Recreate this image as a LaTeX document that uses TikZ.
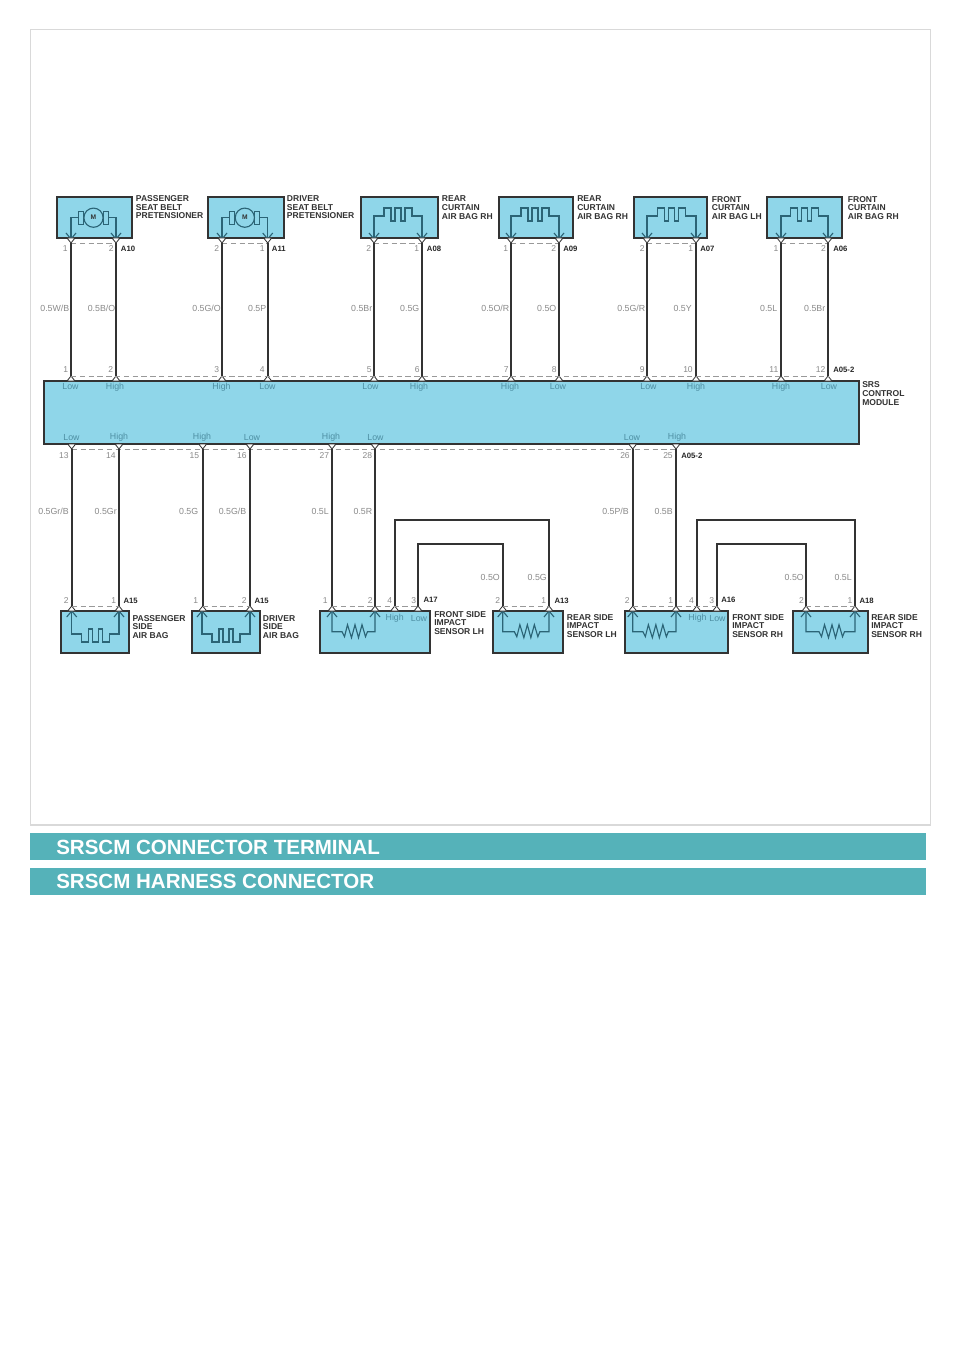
\documentclass[tikz,border=0pt]{standalone}
\usepackage{fontspec}
\setmainfont{Liberation Sans}
\newcounter{lb}
\definecolor{modfill}{HTML}{8FD6E9}
\definecolor{dark}{HTML}{333333}
\definecolor{symb}{HTML}{2B6476}
\definecolor{wlab}{HTML}{8A8A8A}
\definecolor{pinlab}{HTML}{4E8FA3}
\definecolor{band}{HTML}{55B2B9}
\definecolor{frameg}{HTML}{D9D9D9}
\tikzset{
  x=0.75pt,y=-0.75pt,
  box/.style={draw=dark,fill=modfill,line width=1.5pt,inner sep=0pt,outer sep=0pt},
  wire/.style={draw=dark,line width=1.4pt},
  dashl/.style={draw=gray!80,line width=0.7pt,dash pattern=on 4pt off 2.6pt},
  symbl/.style={draw=symb,line width=0.85pt,line join=miter},
  term/.style={draw=dark,fill=white,line width=0.6pt},
  wl/.style={text=wlab,inner sep=0pt,anchor=east,font=\fontsize{6.6}{7}\selectfont},
  num/.style={text=wlab,inner sep=0pt,anchor=east,font=\fontsize{6.4}{7}\selectfont},
  io/.style={text=pinlab,inner sep=0pt,anchor=center,font=\fontsize{6.6}{7}\selectfont},
  cid/.style={text=black!85,inner sep=0pt,anchor=west,font=\bfseries\fontsize{5.8}{7}\selectfont},
  cname/.style={text=black!80,inner sep=0pt,anchor=west,align=left,font=\bfseries\fontsize{6.4}{6.5}\selectfont},
  bandl/.style={fill=band,draw=none,inner sep=0pt,outer sep=0pt},
  bandt/.style={text=white,inner sep=0pt,anchor=west,font=\bfseries\fontsize{15.4}{18}\selectfont}
}
% text label with an automatic name
\newcommand{\lab}[4]{\stepcounter{lb}\node[#1] (t\thelb) at (#2,#3) {#4};}
% component box: name x1 y1 x2 y2
\newcommand{\comp}[5]{\node[box,minimum width={(#4-#2)*0.75pt},minimum height={(#5-#3)*0.75pt}] (#1) at ({(#2+#4)/2},{(#3+#5)/2}) {};}
% terminal triangle with named apex: name x ybase dir
\newcommand{\term}[4]{\draw[term] (#2-4,#3) -- (#2+4,#3) -- (#2,#3+5*#4) -- cycle; \coordinate (#1) at (#2,#3+5*#4);}
% chevron tip at x,y; arms go back along the wire (d=1: arms upward, d=-1: arms downward)
\newcommand{\chev}[3]{\draw[symbl] (#1-5,#2-6*#3) -- (#1,#2) -- (#1+5,#2-6*#3);}
% heater: x1 x2 ywire ytip dir
\newcommand{\heater}[5]{%
  \pgfmathsetmacro{\cx}{(#1+#2)/2}%
  \draw[symbl] (#1,#4) -- (#1,#3) -- (\cx-14,#3) -- (\cx-14,#3-8*#5) -- (\cx-7,#3-8*#5) -- (\cx-7,#3+5*#5) -- (\cx-3,#3+5*#5) -- (\cx-3,#3-8*#5) -- (\cx+3,#3-8*#5) -- (\cx+3,#3+5*#5) -- (\cx+7,#3+5*#5) -- (\cx+7,#3-8*#5) -- (\cx+14,#3-8*#5) -- (\cx+14,#3) -- (#2,#3) -- (#2,#4);
  \chev{#1}{#4}{#5}\chev{#2}{#4}{#5}}
% resistor: x1 x2 ywire ytip dir
\newcommand{\resist}[5]{%
  \pgfmathsetmacro{\cx}{(#1+#2)/2}%
  \draw[symbl] (#1,#4) -- (#1,#3) -- (\cx-11.5,#3) -- (\cx-9,#3+5) -- (\cx-6,#3-7) -- (\cx-2,#3+6) -- (\cx+1.5,#3-7) -- (\cx+5,#3+6) -- (\cx+8.5,#3-7) -- (\cx+12,#3+5) -- (\cx+14,#3) -- (#2,#3) -- (#2,#4);
  \chev{#1}{#4}{#5}\chev{#2}{#4}{#5}}
% motor: x1 x2 ywire ytip
\newcommand{\motor}[4]{%
  \pgfmathsetmacro{\cx}{(#1+#2)/2}%
  \draw[symbl] (#1,#4) -- (#1,#3) -- (\cx-15,#3) (\cx+15,#3) -- (#2,#3) -- (#2,#4);
  \draw[symbl] (\cx-15,#3-6.5) rectangle (\cx-10,#3+6.5);
  \draw[symbl] (\cx+10,#3-6.5) rectangle (\cx+15,#3+6.5);
  \draw[symbl,fill=modfill] (\cx,#3) circle[radius=7.2pt];
  \stepcounter{lb}\node[inner sep=0pt,text=dark,font=\bfseries\fontsize{5}{6}\selectfont] (t\thelb) at (\cx,#3) {M};
  \chev{#1}{#4}{1}\chev{#2}{#4}{1}}
\begin{document}
\begin{tikzpicture}
\useasboundingbox[fill=white] (0,0) rectangle (960,1358);
\node[draw=frameg,line width=0.9pt,fill=white,minimum width={900*0.75pt},minimum height={795.5*0.75pt},inner sep=0pt] (frame) at (480.5,427.3) {};

% ---- module
\comp{srs}{44}{381}{858.5}{444}
\lab{cname}{862}{393.5}{SRS\\CONTROL\\MODULE}

% ---- upper components
\comp{a10}{56.5}{197}{131.5}{238}
\comp{a11}{208}{197}{284}{238}
\comp{a08}{361}{197}{438}{238}
\comp{a09}{499}{197}{573}{238}
\comp{a07}{634}{197}{707}{238}
\comp{a06}{767}{197}{842}{238}

\motor{71}{116}{217.7}{239}
\motor{222}{267.7}{217.7}{239}
\heater{374}{422}{216}{239}{1}
\heater{511}{559}{216}{239}{1}
\heater{647}{696}{216}{239}{1}
\heater{781}{828}{216}{239}{1}

% ---- lower components
\comp{b15a}{61}{611}{129}{653}
\comp{b15b}{192}{611}{260}{653}
\comp{b17}{319.5}{611}{430}{653}
\comp{b13}{493}{611}{563}{653}
\comp{b16}{624.5}{611}{728}{653}
\comp{b18}{793}{611}{868}{653}

\heater{71.7}{119}{634}{611}{-1}
\heater{202}{250}{634}{611}{-1}
\resist{332}{375}{631.7}{611}{-1}
\resist{502.7}{549}{631.7}{611}{-1}
\resist{632.7}{676}{631.7}{611}{-1}
\resist{806}{855}{631.7}{611}{-1}

% ---- terminals, upper components
\term{ua1}{71}{238}{1}\term{ua2}{116}{238}{1}
\term{ub1}{222}{238}{1}\term{ub2}{267.7}{238}{1}
\term{uc1}{374}{238}{1}\term{uc2}{422}{238}{1}
\term{ud1}{511}{238}{1}\term{ud2}{559}{238}{1}
\term{ue1}{647}{238}{1}\term{ue2}{696}{238}{1}
\term{uf1}{781}{238}{1}\term{uf2}{828}{238}{1}
% ---- terminals, module top
\term{m1}{71}{381}{-1}\term{m2}{116}{381}{-1}
\term{m3}{222}{381}{-1}\term{m4}{267.7}{381}{-1}
\term{m5}{374}{381}{-1}\term{m6}{422}{381}{-1}
\term{m7}{511}{381}{-1}\term{m8}{559}{381}{-1}
\term{m9}{647}{381}{-1}\term{m10}{696}{381}{-1}
\term{m11}{781}{381}{-1}\term{m12}{828}{381}{-1}
% ---- terminals, module bottom
\term{n13}{71.7}{444}{1}\term{n14}{119}{444}{1}
\term{n15}{202.7}{444}{1}\term{n16}{250}{444}{1}
\term{n27}{332}{444}{1}\term{n28}{375}{444}{1}
\term{n26}{632.7}{444}{1}\term{n25}{676}{444}{1}
% ---- terminals, lower components
\term{la1}{71.7}{611}{-1}\term{la2}{119}{611}{-1}
\term{lb1}{202.7}{611}{-1}\term{lb2}{250}{611}{-1}
\term{lc1}{332}{611}{-1}\term{lc2}{375}{611}{-1}\term{lc4}{394.7}{611}{-1}\term{lc3}{418}{611}{-1}
\term{ld2}{502.7}{611}{-1}\term{ld1}{549}{611}{-1}
\term{le1}{632.7}{611}{-1}\term{le2}{676}{611}{-1}\term{le4}{696.7}{611}{-1}\term{le3}{716.7}{611}{-1}
\term{lf2}{806}{611}{-1}\term{lf1}{855}{611}{-1}

% ---- dashed connector outlines
\draw[dashl] (ua1) -- (ua2);
\draw[dashl] (ub1) -- (ub2);
\draw[dashl] (uc1) -- (uc2);
\draw[dashl] (ud1) -- (ud2);
\draw[dashl] (ue1) -- (ue2);
\draw[dashl] (uf1) -- (uf2);
\draw[dashl] (m1) -- (m12);
\draw[dashl] (n13) -- (n25);
\draw[dashl] (la1) -- (la2);
\draw[dashl] (lb1) -- (lb2);
\draw[dashl] (lc1) -- (lc3);
\draw[dashl] (ld2) -- (ld1);
\draw[dashl] (le1) -- (le3);
\draw[dashl] (lf2) -- (lf1);

% ---- wires
\draw[wire] (ua1) -- (m1);
\draw[wire] (ua2) -- (m2);
\draw[wire] (ub1) -- (m3);
\draw[wire] (ub2) -- (m4);
\draw[wire] (uc1) -- (m5);
\draw[wire] (uc2) -- (m6);
\draw[wire] (ud1) -- (m7);
\draw[wire] (ud2) -- (m8);
\draw[wire] (ue1) -- (m9);
\draw[wire] (ue2) -- (m10);
\draw[wire] (uf1) -- (m11);
\draw[wire] (uf2) -- (m12);
\draw[wire] (n13) -- (la1);
\draw[wire] (n14) -- (la2);
\draw[wire] (n15) -- (lb1);
\draw[wire] (n16) -- (lb2);
\draw[wire] (n27) -- (lc1);
\draw[wire] (n28) -- (lc2);
\draw[wire] (n26) -- (le1);
\draw[wire] (n25) -- (le2);
\draw[wire] (lc4) |- (394.7,520) -| (ld1);
\draw[wire] (lc3) |- (418,544) -| (ld2);
\draw[wire] (le4) |- (696.7,520) -| (lf1);
\draw[wire] (le3) |- (716.7,544) -| (lf2);

% ---- component names
\lab{cname}{135.7}{207.2}{PASSENGER\\SEAT BELT\\PRETENSIONER}
\lab{cname}{286.7}{207.2}{DRIVER\\SEAT BELT\\PRETENSIONER}
\lab{cname}{441.7}{207.7}{REAR\\CURTAIN\\AIR BAG RH}
\lab{cname}{577}{207.7}{REAR\\CURTAIN\\AIR BAG RH}
\lab{cname}{711.7}{208}{FRONT\\CURTAIN\\AIR BAG LH}
\lab{cname}{847.7}{208}{FRONT\\CURTAIN\\AIR BAG RH}
\lab{cname}{132.3}{627}{PASSENGER\\SIDE\\AIR BAG}
\lab{cname}{262.7}{627}{DRIVER\\SIDE\\AIR BAG}
\lab{cname}{434}{623}{FRONT SIDE\\IMPACT\\SENSOR LH}
\lab{cname}{566.7}{626}{REAR SIDE\\IMPACT\\SENSOR LH}
\lab{cname}{732}{626}{FRONT SIDE\\IMPACT\\SENSOR RH}
\lab{cname}{871}{626}{REAR SIDE\\IMPACT\\SENSOR RH}

% ---- connector ids
\lab{cid}{120.7}{249}{A10}
\lab{cid}{271.7}{249}{A11}
\lab{cid}{426.7}{249}{A08}
\lab{cid}{563}{249}{A09}
\lab{cid}{700}{249}{A07}
\lab{cid}{833}{249}{A06}
\lab{cid}{833}{369.7}{A05-2}
\lab{cid}{681}{455.7}{A05-2}
\lab{cid}{123.3}{600.5}{A15}
\lab{cid}{254.3}{600.5}{A15}
\lab{cid}{423.3}{599.7}{A17}
\lab{cid}{554.3}{601}{A13}
\lab{cid}{721}{600}{A16}
\lab{cid}{859.3}{601}{A18}

% ---- pin numbers, upper components
\lab{num}{68}{249}{1}\lab{num}{114}{249}{2}
\lab{num}{219.5}{249}{2}\lab{num}{265}{249}{1}
\lab{num}{371.5}{249}{2}\lab{num}{419.5}{249}{1}
\lab{num}{508.5}{249}{1}\lab{num}{556.5}{249}{2}
\lab{num}{645}{249}{2}\lab{num}{693.5}{249}{1}
\lab{num}{778.5}{249}{1}\lab{num}{826}{249}{2}
% ---- pin numbers, module top
\lab{num}{68.5}{369.5}{1}\lab{num}{113.5}{369.5}{2}
\lab{num}{219.5}{369.5}{3}\lab{num}{265}{369.5}{4}
\lab{num}{372}{369.5}{5}\lab{num}{420}{369.5}{6}
\lab{num}{509}{369.5}{7}\lab{num}{557}{369.5}{8}
\lab{num}{645}{369.5}{9}\lab{num}{693}{369.5}{10}
\lab{num}{778.5}{369.5}{11}\lab{num}{825.5}{369.5}{12}
% ---- pin numbers, module bottom
\lab{num}{69}{455.7}{13}\lab{num}{116}{455.7}{14}
\lab{num}{199.5}{455.7}{15}\lab{num}{247}{455.7}{16}
\lab{num}{329.5}{455.7}{27}\lab{num}{372.5}{455.7}{28}
\lab{num}{630}{455.7}{26}\lab{num}{673}{455.7}{25}
% ---- pin numbers, lower components
\lab{num}{69}{600.7}{2}\lab{num}{116.5}{600.7}{1}
\lab{num}{198.5}{600.7}{1}\lab{num}{247}{600.7}{2}
\lab{num}{328}{600.7}{1}\lab{num}{373}{600.7}{2}\lab{num}{392.5}{600.7}{4}\lab{num}{416.5}{600.7}{3}
\lab{num}{500.5}{600.7}{2}\lab{num}{546.5}{600.7}{1}
\lab{num}{630}{600.7}{2}\lab{num}{673.5}{600.7}{1}\lab{num}{694}{600.7}{4}\lab{num}{714.5}{600.7}{3}
\lab{num}{804}{600.7}{2}\lab{num}{852.5}{600.7}{1}

% ---- High / Low, module top
\lab{io}{70.5}{387}{Low}\lab{io}{115}{387}{High}
\lab{io}{221.5}{387}{High}\lab{io}{267.5}{387}{Low}
\lab{io}{370.5}{387}{Low}\lab{io}{419}{387}{High}
\lab{io}{510}{387}{High}\lab{io}{558}{387}{Low}
\lab{io}{648.5}{387}{Low}\lab{io}{696}{387}{High}
\lab{io}{781}{387}{High}\lab{io}{829}{387}{Low}
% ---- High / Low, module bottom
\lab{io}{71.5}{437.7}{Low}\lab{io}{119}{437.7}{High}
\lab{io}{202}{437.7}{High}\lab{io}{252}{437.7}{Low}
\lab{io}{331}{437.7}{High}\lab{io}{375.5}{437.7}{Low}
\lab{io}{632}{437.7}{Low}\lab{io}{677}{437.7}{High}
% ---- High / Low, sensors
\lab{io}{394.7}{618.5}{High}\lab{io}{419}{618.5}{Low}
\lab{io}{697.5}{618.5}{High}\lab{io}{717.5}{618.5}{Low}

% ---- wire labels
\lab{wl}{69.5}{308}{0.5W/B}
\lab{wl}{115.5}{308}{0.5B/O}
\lab{wl}{221}{308}{0.5G/O}
\lab{wl}{266.5}{308}{0.5P}
\lab{wl}{372.5}{308.5}{0.5Br}
\lab{wl}{419.5}{308.5}{0.5G}
\lab{wl}{509.5}{308.5}{0.5O/R}
\lab{wl}{556.5}{308.5}{0.5O}
\lab{wl}{645.5}{308.5}{0.5G/R}
\lab{wl}{692}{308.5}{0.5Y}
\lab{wl}{777.5}{308.5}{0.5L}
\lab{wl}{825.5}{308.5}{0.5Br}
\lab{wl}{69}{511.7}{0.5Gr/B}
\lab{wl}{117}{511.7}{0.5Gr}
\lab{wl}{198.5}{511.7}{0.5G}
\lab{wl}{246.5}{511.7}{0.5G/B}
\lab{wl}{329}{511.7}{0.5L}
\lab{wl}{372.5}{511.7}{0.5R}
\lab{wl}{629}{511.7}{0.5P/B}
\lab{wl}{673}{511.7}{0.5B}
\lab{wl}{500}{577}{0.5O}
\lab{wl}{547}{577}{0.5G}
\lab{wl}{804}{577}{0.5O}
\lab{wl}{852}{577}{0.5L}

% ---- title bands
\node[bandl,minimum width={896*0.75pt},minimum height={27*0.75pt}] (band1) at (478,846.7) {};
\node[bandl,minimum width={896*0.75pt},minimum height={27*0.75pt}] (band2) at (478,881.5) {};
\node[bandt] (title1) at (56,847) {SRSCM CONNECTOR TERMINAL};
\node[bandt] (title2) at (56,881.8) {SRSCM HARNESS CONNECTOR};
\end{tikzpicture}
\end{document}
